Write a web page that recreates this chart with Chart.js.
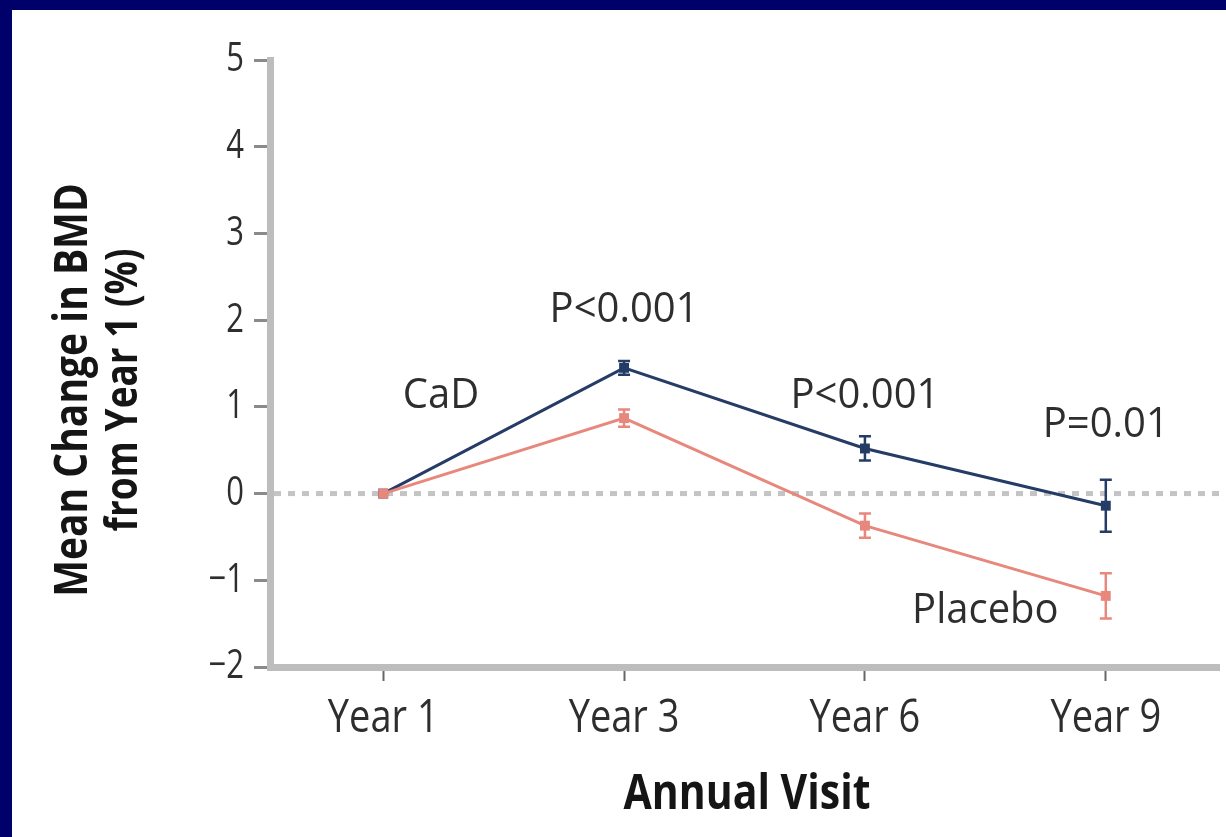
<!DOCTYPE html>
<html>
<head>
<meta charset="utf-8">
<script src="https://cdn.jsdelivr.net/npm/chart.js@4"></script>
<style>
  html, body { margin: 0; padding: 0; background: #00006a; width: 1226px; height: 837px; overflow: hidden; }
  #panel { position: absolute; left: 12px; top: 10px; width: 1214px; height: 827px; background: #ffffff; }
  canvas { display: block; }
</style>
</head>
<body>
<div id="panel"><canvas id="c" width="1214" height="827"></canvas></div>
<script>
// Annual visits and mean % change in BMD from Year 1
const visits = ['Year 1', 'Year 3', 'Year 6', 'Year 9'];
const cadMean = [0, 1.45, 0.52, -0.14];
const cadErr = [0, 0.08, 0.14, 0.3];
const placeboMean = [0, 0.87, -0.37, -1.18];
const placeboErr = [0, 0.1, 0.14, 0.26];
const yTicks = [-2, -1, 0, 1, 2, 3, 4, 5];
const pLabels = [
  { visit: 1, y: 2.12, text: 'P<0.001' },
  { visit: 2, y: 1.12, text: 'P<0.001' },
  { visit: 3, y: 0.79, text: 'P=0.01' }
];
const seriesLabels = [
  { visit: 0.24, y: 1.12, text: 'CaD' },
  { visit: 2.5, y: -1.35, text: 'Placebo' }
];

const FONT = '"Open Sans", "Liberation Sans", sans-serif';
const NAVY = '#243c66';
const SALMON = '#e8877c';
const AXIS = '#bdbdbd';
const INK = '#2e2e2e';

function pts(arr) { return arr.map((v, i) => ({ x: i + 1, y: v })); }

// text drawn with a slight vertical stretch (tall, narrow lettering)
function drawText(ctx, text, x, y, size, weight, sy, align) {
  ctx.save();
  ctx.translate(x, y);
  ctx.scale(1, sy);
  ctx.font = weight + ' ' + size + 'px ' + FONT;
  ctx.textAlign = align || 'center';
  ctx.textBaseline = 'middle';
  ctx.fillText(text, 0, 0);
  ctx.restore();
}

const overlay = {
  id: 'overlay',
  beforeDatasetsDraw(chart) {
    const { ctx, chartArea, scales } = chart;
    const y0 = scales.y.getPixelForValue(0);
    ctx.save();
    ctx.strokeStyle = '#c4c4c4';
    ctx.lineWidth = 5;
    ctx.setLineDash([7, 7]);
    ctx.beginPath();
    ctx.moveTo(chartArea.left + 4, y0);
    ctx.lineTo(chartArea.right, y0);
    ctx.stroke();
    ctx.restore();
  },
  afterDatasetsDraw(chart) {
    const { ctx, scales } = chart;
    const xs = scales.x, ys = scales.y;
    const bars = [[cadMean, cadErr, NAVY], [placeboMean, placeboErr, SALMON]];
    ctx.save();
    ctx.lineWidth = 2.5;
    bars.forEach(([m, e, col]) => {
      m.forEach((v, i) => {
        if (!e[i]) return;
        const x = xs.getPixelForValue(i + 1);
        const t = ys.getPixelForValue(v + e[i]);
        const b = ys.getPixelForValue(v - e[i]);
        ctx.strokeStyle = col;
        ctx.beginPath();
        ctx.moveTo(x, t); ctx.lineTo(x, b);
        ctx.moveTo(x - 6, t); ctx.lineTo(x + 6, t);
        ctx.moveTo(x - 6, b); ctx.lineTo(x + 6, b);
        ctx.stroke();
      });
    });
    ctx.fillStyle = INK;
    pLabels.concat(seriesLabels).forEach(l => {
      drawText(ctx, l.text, xs.getPixelForValue(l.visit + 1), ys.getPixelForValue(l.y), 40, 'normal', 1.05);
    });
    ctx.restore();
  },
  afterDraw(chart) {
    const { ctx, scales } = chart;
    const xs = scales.x, ys = scales.y;
    ctx.save();
    ctx.fillStyle = INK;
    // tick labels
    yTicks.forEach(v => {
      const t = v < 0 ? '\u2212' + Math.abs(v) : String(v);
      drawText(ctx, t, 232, ys.getPixelForValue(v), 31, 'normal', 1.3, 'right');
    });
    visits.forEach((t, i) => {
      drawText(ctx, t, xs.getPixelForValue(i + 1), 709, 38, 'normal', 1.2);
    });
    // axis titles
    ctx.fillStyle = '#151515';
    drawText(ctx, 'Annual Visit', 735, 785, 41, 'bold', 1.2);
    ctx.translate(0, 380);
    ctx.rotate(-Math.PI / 2);
    drawText(ctx, 'Mean Change in BMD', 0, 62, 39, 'bold', 1.2);
    drawText(ctx, 'from Year 1 (%)', 0, 112, 37, 'bold', 1.2);
    ctx.restore();
  }
};

new Chart(document.getElementById('c'), {
  type: 'line',
  data: {
    datasets: [
      {
        label: 'CaD', data: pts(cadMean), borderColor: NAVY, backgroundColor: NAVY, order: 1,
        borderWidth: 3, pointStyle: 'rect', pointRadius: 7, pointBorderWidth: 0, tension: 0
      },
      {
        label: 'Placebo', data: pts(placeboMean), borderColor: SALMON, backgroundColor: SALMON, order: 0,
        borderWidth: 3, pointStyle: 'rect', pointRadius: 7, pointBorderWidth: 0, tension: 0
      }
    ]
  },
  options: {
    responsive: false,
    animation: false,
    events: [],
    layout: { padding: { top: 50, right: 4, left: 0, bottom: 0 } },
    plugins: { legend: { display: false }, tooltip: { enabled: false } },
    scales: {
      x: {
        type: 'linear', min: 0.53, max: 4.47,
        afterBuildTicks(s) { s.ticks = visits.map((_, i) => ({ value: i + 1 })); },
        afterFit(s) { s.height = 170; },
        border: { color: AXIS, width: 7 },
        grid: { drawOnChartArea: false, tickLength: 14, tickColor: '#666', tickWidth: 2 },
        ticks: { color: 'rgba(0,0,0,0)', font: { size: 12 } }
      },
      y: {
        min: -2, max: 5,
        afterBuildTicks(s) { s.ticks = yTicks.map(v => ({ value: v })); },
        afterFit(s) { s.width = 258; },
        border: { color: AXIS, width: 7 },
        grid: { drawOnChartArea: false, tickLength: 16, tickColor: '#8a8a8a', tickWidth: 3 },
        ticks: { color: 'rgba(0,0,0,0)', font: { size: 12 } }
      }
    }
  },
  plugins: [overlay]
});
</script>
</body>
</html>
